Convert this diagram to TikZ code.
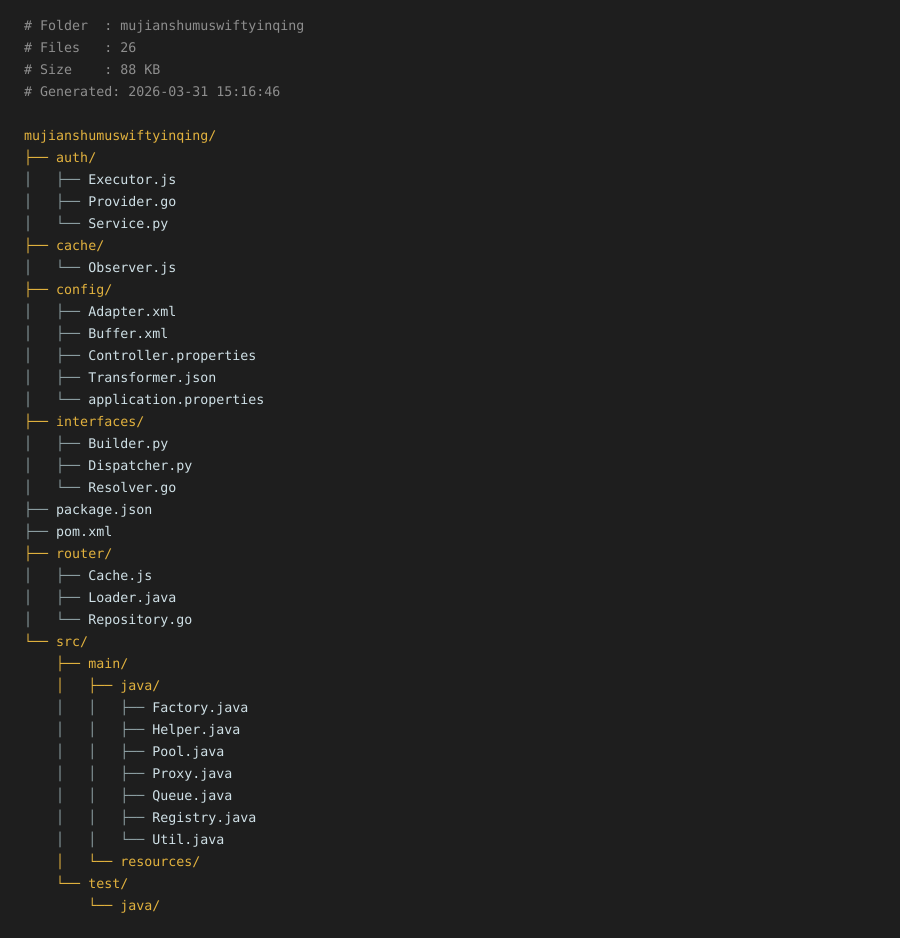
\documentclass[tikz,border=0pt]{standalone}
\usepackage{fontspec}
\setmonofont{DejaVu Sans Mono}
\usepackage{tikz}

\definecolor{bgdark}{HTML}{1E1E1E}
\definecolor{hdrgray}{HTML}{8E8E8E}
\definecolor{dirgold}{HTML}{E2B23E}
\definecolor{filecyan}{HTML}{CFE0E6}
\definecolor{treegray}{HTML}{8C9EA2}
\newcommand{\br}[1]{\textcolor{treegray}{#1}}

\begin{document}
\begin{tikzpicture}[x=1pt,y=-1pt,
    every node/.style={anchor=base west,inner sep=0pt,font=\ttfamily\fontsize{13.3}{16}\selectfont},
    hdr/.style={text=hdrgray},
    dir/.style={text=dirgold},
    file/.style={text=filecyan}]
    \fill[bgdark] (0,0) rectangle (900,938);
    % header
    \node[hdr] (hfolder) at (24,30) {\#~Folder~~:~mujianshumuswiftyinqing};
    \node[hdr] (hfiles) at (24,52) {\#~Files~~~:~26};
    \node[hdr] (hsize) at (24,74) {\#~Size~~~~:~88~KB};
    \node[hdr] (hgen) at (24,96) {\#~Generated:~2026-03-31~15:16:46};
    % tree
    \node[dir] (root) at (24,140) {mujianshumuswiftyinqing/};
    \node[dir] (auth) at (24,162) {├──~auth/};
    \node[file] (executor) at (24,184) {\br{│~~~├──~}Executor.js};
    \node[file] (provider) at (24,206) {\br{│~~~├──~}Provider.go};
    \node[file] (service) at (24,228) {\br{│~~~└──~}Service.py};
    \node[dir] (cache) at (24,250) {├──~cache/};
    \node[file] (observer) at (24,272) {\br{│~~~└──~}Observer.js};
    \node[dir] (config) at (24,294) {├──~config/};
    \node[file] (adapter) at (24,316) {\br{│~~~├──~}Adapter.xml};
    \node[file] (buffer) at (24,338) {\br{│~~~├──~}Buffer.xml};
    \node[file] (controller) at (24,360) {\br{│~~~├──~}Controller.properties};
    \node[file] (transformer) at (24,382) {\br{│~~~├──~}Transformer.json};
    \node[file] (appprops) at (24,404) {\br{│~~~└──~}application.properties};
    \node[dir] (interfaces) at (24,426) {├──~interfaces/};
    \node[file] (builder) at (24,448) {\br{│~~~├──~}Builder.py};
    \node[file] (dispatcher) at (24,470) {\br{│~~~├──~}Dispatcher.py};
    \node[file] (resolver) at (24,492) {\br{│~~~└──~}Resolver.go};
    \node[file] (packagejson) at (24,514) {\br{├──~}package.json};
    \node[file] (pomxml) at (24,536) {\br{├──~}pom.xml};
    \node[dir] (router) at (24,558) {├──~router/};
    \node[file] (cachejs) at (24,580) {\br{│~~~├──~}Cache.js};
    \node[file] (loader) at (24,602) {\br{│~~~├──~}Loader.java};
    \node[file] (repository) at (24,624) {\br{│~~~└──~}Repository.go};
    \node[dir] (src) at (24,646) {└──~src/};
    \node[dir] (main) at (24,668) {~~~~├──~main/};
    \node[dir] (mainjava) at (24,690) {~~~~│~~~├──~java/};
    \node[file] (factory) at (24,712) {\br{~~~~│~~~│~~~├──~}Factory.java};
    \node[file] (helper) at (24,734) {\br{~~~~│~~~│~~~├──~}Helper.java};
    \node[file] (pool) at (24,756) {\br{~~~~│~~~│~~~├──~}Pool.java};
    \node[file] (proxy) at (24,778) {\br{~~~~│~~~│~~~├──~}Proxy.java};
    \node[file] (queue) at (24,800) {\br{~~~~│~~~│~~~├──~}Queue.java};
    \node[file] (registry) at (24,822) {\br{~~~~│~~~│~~~├──~}Registry.java};
    \node[file] (util) at (24,844) {\br{~~~~│~~~│~~~└──~}Util.java};
    \node[dir] (resources) at (24,866) {~~~~│~~~└──~resources/};
    \node[dir] (test) at (24,888) {~~~~└──~test/};
    \node[dir] (testjava) at (24,910) {~~~~~~~~└──~java/};
\end{tikzpicture}
\end{document}
